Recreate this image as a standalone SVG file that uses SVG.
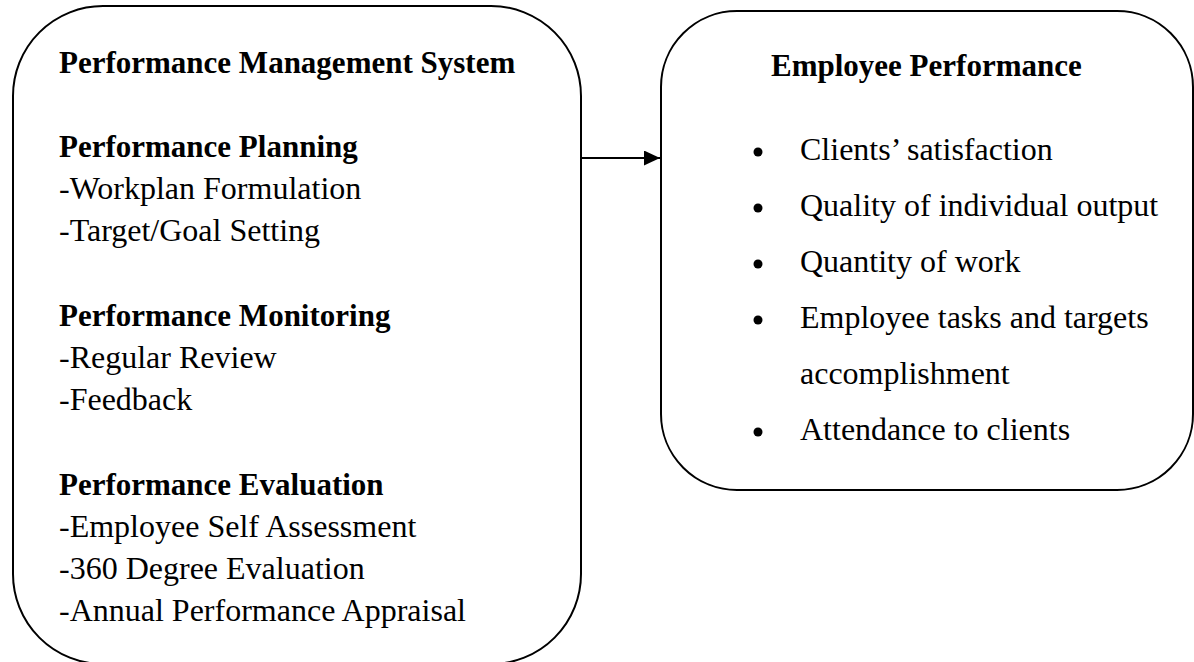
<svg xmlns="http://www.w3.org/2000/svg" width="1194" height="662" viewBox="0 0 1194 662">
  <style>
    .box { fill: #ffffff; stroke: #000000; stroke-width: 2; }
    .hd { font-family: "Liberation Serif", "Times New Roman", serif; font-weight: bold; font-size: 31px; fill: #000000; }
    .tx { font-family: "Liberation Serif", "Times New Roman", serif; font-size: 32px; fill: #000000; }
    .link { stroke: #000000; stroke-width: 2; fill: none; }
  </style>
  <defs>
    <marker id="arrowhead" markerWidth="16" markerHeight="15" refX="16" refY="7.5" orient="auto" markerUnits="userSpaceOnUse">
      <path d="M0,0 L16,7.5 L0,15 Z" fill="#000000"/>
    </marker>
  </defs>
  <rect width="1194" height="662" fill="#ffffff"/>

  <!-- left node: performance management system -->
  <g id="pms">
    <rect class="box" x="13" y="6" width="568" height="658" rx="90" ry="90"/>
    <text class="hd" x="59" y="73">Performance Management System</text>
    <text class="hd" x="59" y="157">Performance Planning</text>
    <text class="tx" x="59" y="199">-Workplan Formulation</text>
    <text class="tx" x="59" y="241">-Target/Goal Setting</text>
    <text class="hd" x="59" y="326">Performance Monitoring</text>
    <text class="tx" x="59" y="368">-Regular Review</text>
    <text class="tx" x="59" y="410">-Feedback</text>
    <text class="hd" x="59" y="495">Performance Evaluation</text>
    <text class="tx" x="59" y="537">-Employee Self Assessment</text>
    <text class="tx" x="59" y="579">-360 Degree Evaluation</text>
    <text class="tx" x="59" y="621">-Annual Performance Appraisal</text>
  </g>

  <!-- right node: employee performance -->
  <g id="employee-performance">
    <rect class="box" x="661" y="11" width="532" height="479" rx="76" ry="76"/>
    <text class="hd" x="771" y="76">Employee Performance</text>
    <circle cx="758" cy="152" r="4.5"/>
    <text class="tx" x="800" y="160">Clients’ satisfaction</text>
    <circle cx="758" cy="208" r="4.5"/>
    <text class="tx" x="800" y="216">Quality of individual output</text>
    <circle cx="758" cy="264" r="4.5"/>
    <text class="tx" x="800" y="272">Quantity of work</text>
    <circle cx="758" cy="320" r="4.5"/>
    <text class="tx" x="800" y="328">Employee tasks and targets</text>
    <text class="tx" x="800" y="384">accomplishment</text>
    <circle cx="758" cy="432" r="4.5"/>
    <text class="tx" x="800" y="440">Attendance to clients</text>
  </g>

  <!-- connectors -->
  <g id="connectors">
    <line class="link" x1="581" y1="158" x2="660" y2="158" marker-end="url(#arrowhead)"/>
  </g>
</svg>
